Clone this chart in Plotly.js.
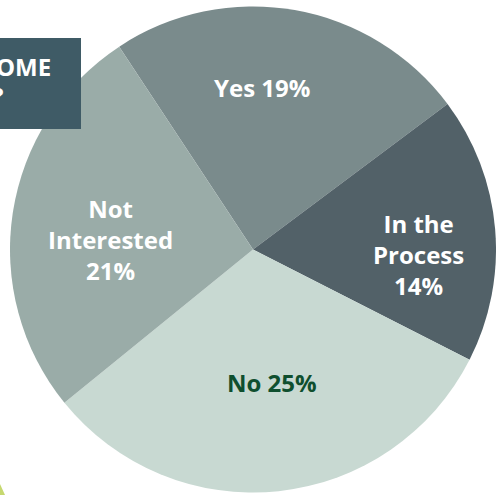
<!DOCTYPE html>
<html>
<head>
<meta charset="utf-8">
<script src="https://cdn.plot.ly/plotly-3.0.1.min.js"></script>
<style>html,body{margin:0;padding:0;background:#fff;overflow:hidden}#chart{width:496px;height:495px}</style>
</head>
<body>
<div id="chart"></div>
<script>
var labels = ["Yes", "In the Process", "No", "Not Interested"];
var displayLabels = ["Yes", "In the<br>Process", "No", "Not<br>Interested"];
var values = [19, 14, 25, 21];
var percentText = ["19%", "14%", "25%", "21%"];
var sliceColors = ["#7a8b8c", "#526168", "#c8d9d2", "#9aaca8"];
var textColors = ["#ffffff", "#ffffff", "#0f4f2e", "#ffffff"];
var separators = [" ", "<br>", " ", "<br>"];

var W = 496, H = 495;
// label anchor points (pixels from top-left), layout only
var labelAnchors = [[262, 87], [418, 254], [272, 382], [110, 239]];
var FONT = "'Open Sans', Lato, sans-serif";

var texts = displayLabels.map(function (l, i) { return l + separators[i] + percentText[i]; });

var trace = {
  type: "pie",
  labels: labels,
  values: values,
  text: texts,
  textinfo: "none",
  sort: false,
  direction: "clockwise",
  rotation: -33.4,
  hoverinfo: "none",
  marker: { colors: sliceColors, line: { width: 0 } },
  domain: { x: [10 / W, 1], y: [2.5 / H, 488.5 / H] },
  showlegend: false
};

var annotations = texts.map(function (t, i) {
  return {
    xref: "paper", yref: "paper",
    x: labelAnchors[i][0] / W, y: 1 - labelAnchors[i][1] / H,
    xanchor: "center", yanchor: "middle", align: "center",
    text: t, showarrow: false,
    font: { family: FONT, size: 24, weight: 700, color: textColors[i] }
  };
});
annotations.push(
  { xref: "paper", yref: "paper", x: 53 / W, y: 1 - 67 / H, xanchor: "right", yanchor: "middle",
    text: "OME", showarrow: false,
    font: { family: FONT, size: 24, weight: 700, color: "#ffffff" } },
  { xref: "paper", yref: "paper", x: 5 / W, y: 1 - 95 / H, xanchor: "right", yanchor: "middle",
    text: "?", showarrow: false,
    font: { family: FONT, size: 24, weight: 700, color: "#ffffff" } }
);

var layout = {
  width: W, height: H,
  margin: { l: 0, r: 0, t: 0, b: 0 },
  paper_bgcolor: "#ffffff",
  showlegend: false,
  shapes: [
    { type: "rect", xref: "paper", yref: "paper", x0: 0, x1: 81 / W, y0: 1 - 129 / H, y1: 1 - 38 / H,
      fillcolor: "#3f5b66", line: { width: 0 }, layer: "above" },
    { type: "path", xref: "paper", yref: "paper",
      path: "M0," + (1 - 484 / H) + " L" + (5 / W) + ",0 L0,0 Z",
      fillcolor: "#c6d870", line: { width: 0 }, layer: "above" }
  ],
  annotations: annotations
};

Plotly.newPlot("chart", [trace], layout, { displayModeBar: false, staticPlot: true });
</script>
</body>
</html>
